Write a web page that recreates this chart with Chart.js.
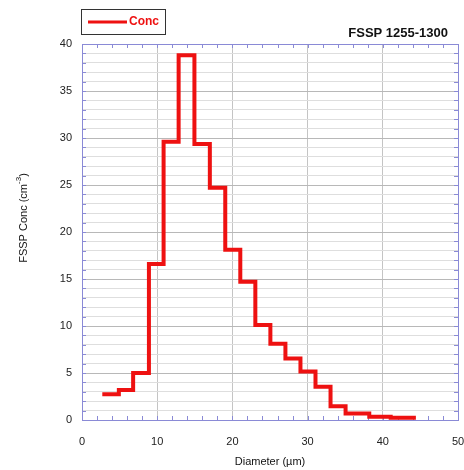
<!DOCTYPE html>
<html><head><meta charset="utf-8">
<script src="https://cdn.jsdelivr.net/npm/chart.js@4/dist/chart.umd.min.js"></script>
<style>html,body{margin:0;padding:0;background:#fff}#wrap{width:464px;height:470px;position:relative}</style>
</head><body><div id="wrap"><canvas id="c"></canvas></div>
<script>
// Histogram bin left edges (µm) and concentrations (cm^-3)
const binEdges = [2.7, 4.9, 6.8, 8.9, 10.85, 12.85, 14.95, 17.0, 19.05, 21.05, 23.05, 25.05, 27.05, 29.05, 31.05, 33.05, 35.05, 38.2, 41.05];
const binEnd = 44.4;
const concValues = [2.75, 3.2, 5.0, 16.6, 29.6, 38.8, 29.35, 24.7, 18.1, 14.7, 10.1, 8.1, 6.55, 5.15, 3.55, 1.45, 0.7, 0.35, 0.25];
const seriesName = 'Conc';
const chartTitle = 'FSSP 1255-1300';
const xTitle = 'Diameter (\u00b5m)';
const yTitleMain = 'FSSP Conc (cm';
const yTitleSup = '-3';
const xMin = 0, xMax = 50, yMin = 0, yMax = 40;

const FONT = '"Liberation Sans", Arial, Helvetica, sans-serif';
const pts = binEdges.map((e, i) => ({x: e, y: concValues[i]}));
pts.push({x: binEnd, y: concValues[concValues.length - 1]});

const frameColor = '#8a8ad6';

const decor = {
  id: 'decor',
  beforeDatasetsDraw(chart) {
    const {ctx, chartArea: a, scales: {x, y}} = chart;
    ctx.save();
    ctx.strokeStyle = frameColor;
    ctx.lineWidth = 1;
    ctx.beginPath();
    for (let v = xMin; v <= xMax; v += 2) {
      const px = Math.round(x.getPixelForValue(v)) + 0.5;
      ctx.moveTo(px, a.bottom); ctx.lineTo(px, a.bottom - 4);
      ctx.moveTo(px, a.top); ctx.lineTo(px, a.top + 4);
    }
    for (let v = yMin; v <= yMax; v += 1) {
      const py = Math.round(y.getPixelForValue(v)) + 0.5;
      ctx.moveTo(a.left, py); ctx.lineTo(a.left + 4, py);
      ctx.moveTo(a.right, py); ctx.lineTo(a.right - 4, py);
    }
    ctx.stroke();
    ctx.strokeRect(Math.round(a.left) + 0.5, Math.round(a.top) + 0.5, Math.round(a.right - a.left), Math.round(a.bottom - a.top));
    ctx.restore();
  },
  afterDraw(chart) {
    const {ctx, chartArea: a} = chart;
    ctx.save();
    // legend box
    ctx.strokeStyle = '#333';
    ctx.lineWidth = 1;
    ctx.strokeRect(81.5, 9.5, 84, 25);
    ctx.strokeStyle = '#ee1111';
    ctx.lineWidth = 3;
    ctx.beginPath(); ctx.moveTo(88, 22); ctx.lineTo(127, 22); ctx.stroke();
    ctx.fillStyle = '#ee1111';
    ctx.font = 'bold 12px ' + FONT;
    ctx.textBaseline = 'middle';
    ctx.textAlign = 'left';
    ctx.fillText(seriesName, 129, 22);
    // title
    ctx.fillStyle = '#111';
    ctx.font = 'bold 13px ' + FONT;
    ctx.textAlign = 'right';
    ctx.fillText(chartTitle, 448, 33);
    // x title
    ctx.font = '11px ' + FONT;
    ctx.textAlign = 'center';
    ctx.fillText(xTitle, (a.left + a.right) / 2, 462);
    // y title rotated
    ctx.translate(24, 218);
    ctx.rotate(-Math.PI / 2);
    ctx.font = '11px ' + FONT;
    const w1 = ctx.measureText(yTitleMain).width;
    ctx.font = '8px ' + FONT;
    const w2 = ctx.measureText(yTitleSup).width;
    ctx.font = '11px ' + FONT;
    const w3 = ctx.measureText(')').width;
    let sx = -(w1 + w2 + w3) / 2;
    ctx.textAlign = 'left';
    ctx.fillText(yTitleMain, sx, 0);
    ctx.font = '8px ' + FONT;
    ctx.fillText(yTitleSup, sx + w1, -5);
    ctx.font = '11px ' + FONT;
    ctx.fillText(')', sx + w1 + w2, 0);
    ctx.restore();
  }
};

new Chart(document.getElementById('c'), {
  type: 'line',
  data: {
    datasets: [{
      label: seriesName,
      data: pts,
      stepped: true,
      borderColor: '#ee1111',
      borderWidth: 4,
      pointRadius: 0,
      fill: false,
      borderCapStyle: 'butt',
      borderJoinStyle: 'miter'
    }]
  },
  options: {
    responsive: true,
    maintainAspectRatio: false,
    animation: false,
    layout: {padding: {left: 0, right: 6, top: 44, bottom: 0}},
    plugins: {legend: {display: false}, title: {display: false}, tooltip: {enabled: false}},
    scales: {
      x: {
        type: 'linear', min: xMin, max: xMax,
        afterFit(s) { s.height = 50; s.paddingLeft = 0; s.paddingRight = 0; },
        border: {display: false},
        grid: {
          drawTicks: false,
          color: c => (c.tick && c.tick.value % 10 === 0) ? '#c4c4c4' : 'rgba(0,0,0,0)'
        },
        ticks: {
          stepSize: 2, autoSkip: false, maxRotation: 0, padding: 15,
          color: '#222', font: {family: FONT, size: 11},
          callback: v => (v % 10 === 0 ? String(v) : '')
        }
      },
      y: {
        type: 'linear', min: yMin, max: yMax,
        afterFit(s) { s.width = 82; s.paddingTop = 0; s.paddingBottom = 0; },
        border: {display: false},
        grid: {
          drawTicks: false,
          color: c => (c.tick && c.tick.value % 5 === 0) ? '#b8b8b8' : '#dedede'
        },
        ticks: {
          stepSize: 1, autoSkip: false, padding: 10,
          color: '#222', font: {family: FONT, size: 11},
          callback: v => (v % 5 === 0 ? String(v) : '')
        }
      }
    }
  },
  plugins: [decor]
});
</script></body></html>
